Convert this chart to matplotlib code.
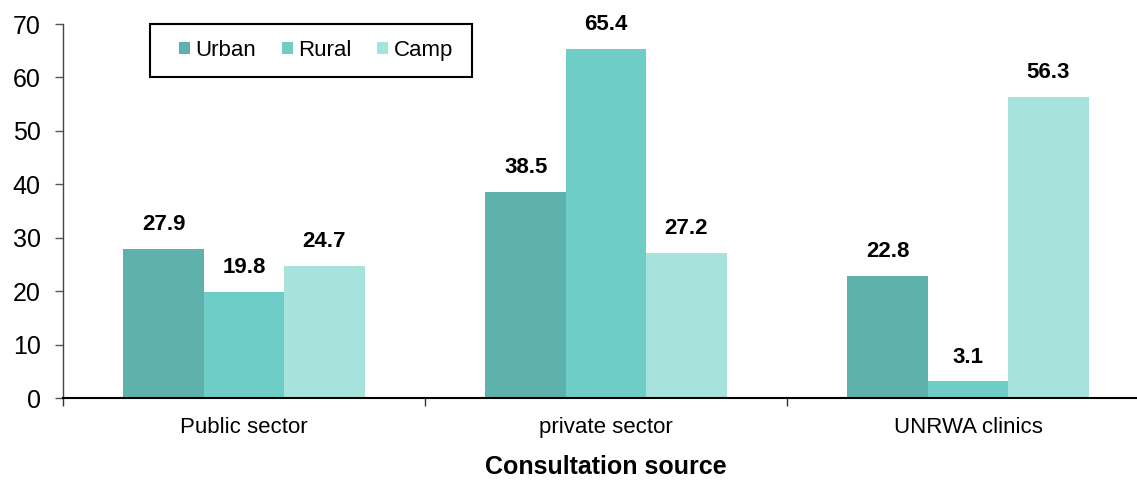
import matplotlib
matplotlib.use("Agg")
import matplotlib.pyplot as plt
from matplotlib.patches import Rectangle
import numpy as np

plt.rcParams['font.family'] = ['Liberation Sans', 'DejaVu Sans']

categories = ["Public sector", "private sector", "UNRWA clinics"]
series_names = ["Urban", "Rural", "Camp"]
urban = [27.9, 38.5, 22.8]
rural = [19.8, 65.4, 3.1]
camp = [24.7, 27.2, 56.3]
colors = ["#5fb2ac", "#6ecec7", "#a8e2dd"]
xlabel = "Consultation source"

W, H = 1137, 480
fig = plt.figure(figsize=(W/100, H/100), dpi=100)
ax = fig.add_axes([63/W, 82/H, 1086/W, 374/H])

x = np.arange(len(categories))
w = 0.222
for i, (vals, name, c) in enumerate(zip([urban, rural, camp], series_names, colors)):
    pos = x + (i - 1) * w
    ax.bar(pos, vals, width=w, color=c, label=name, zorder=2)
    for xp, v in zip(pos, vals):
        ax.annotate(f"{v}", (xp, v), xytext=(0, 10), textcoords="offset points",
                    ha="center", va="bottom", fontsize=16, fontweight="bold")

ax.set_xlim(-0.5, 2.5)
ax.set_ylim(0, 70)
ax.set_yticks(range(0, 71, 10))
ax.set_xticks(x)
ax.set_xticklabels(categories, fontsize=16)
ax.tick_params(axis='x', which='major', length=0, pad=14)
ax.set_xticks([-0.5, 0.5, 1.5], minor=True)
ax.tick_params(axis='x', which='minor', length=6, width=1, color='#333333', direction='out')
ax.tick_params(axis='y', labelsize=18, length=6, width=1, color='#555555', direction='out', pad=10)

for s in ['top', 'right']:
    ax.spines[s].set_visible(False)
ax.spines['left'].set_color('#444444')
ax.spines['left'].set_linewidth(1)
ax.spines['bottom'].set_color('black')
ax.spines['bottom'].set_linewidth(1.5)

ax.set_xlabel(xlabel, fontsize=18, fontweight='bold', labelpad=12)

# legend frame
fig.patches.append(Rectangle((150/W, 1 - 77/H), (472-150)/W, (77-24)/H,
                             transform=fig.transFigure, fill=False,
                             edgecolor='black', linewidth=1.5, zorder=5))
leg = ax.legend(loc='center', bbox_to_anchor=(316/W, 1 - 50.5/H),
                bbox_transform=fig.transFigure, ncol=3, fontsize=16,
                frameon=False, borderpad=0, handlelength=0.5, handleheight=0.5,
                handletextpad=0.25, columnspacing=1.15)

fig.savefig("out.png", dpi=100)
